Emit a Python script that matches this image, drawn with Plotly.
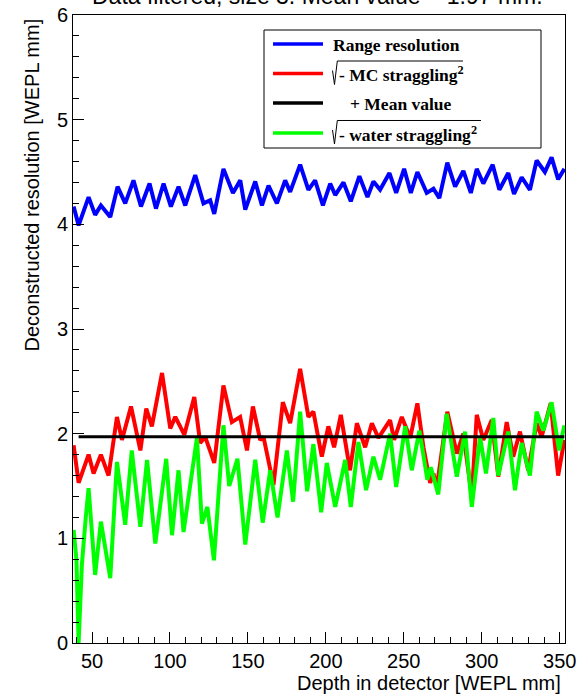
import plotly.graph_objects as go

# Range resolution (blue)
depth_range = [38.2, 41.4, 47.8, 52.0, 55.7, 61.7, 66.4, 71.3, 76.6, 81.4, 86.9, 91.0, 95.9, 100.6,
               105.5, 109.8, 116.2, 121.5, 125.8, 128.4, 134.3, 140.4, 145.1, 148.3, 154.7, 159.0,
               163.2, 168.6, 173.9, 177.1, 183.5, 188.8, 193.1, 198.1, 202.8, 206.0, 211.3, 216.0,
               221.5, 226.7, 230.5, 234.8, 240.8, 245.1, 250.2, 254.5, 258.7, 264.7, 269.0, 272.8,
               277.9, 282.9, 288.2, 293.0, 296.8, 301.0, 307.0, 311.3, 317.0, 320.7, 325.6, 330.9,
               335.2, 340.5, 344.8, 349.0, 353.0]
res_range = [4.17, 3.99, 4.26, 4.09, 4.18, 4.07, 4.36, 4.20, 4.42, 4.17, 4.39, 4.15, 4.39, 4.17,
             4.36, 4.18, 4.47, 4.20, 4.23, 4.10, 4.53, 4.30, 4.42, 4.14, 4.41, 4.18,
             4.37, 4.20, 4.42, 4.31, 4.57, 4.33, 4.42, 4.18, 4.39, 4.28, 4.40, 4.22,
             4.46, 4.26, 4.41, 4.33, 4.49, 4.30, 4.53, 4.30, 4.50, 4.30, 4.34, 4.25,
             4.59, 4.36, 4.51, 4.30, 4.53, 4.39, 4.57, 4.33, 4.49, 4.29, 4.45, 4.33,
             4.61, 4.50, 4.64, 4.43, 4.53]

# sqrt(range^2 - MC straggling^2) (red)
depth_mc = [38.2, 41.4, 47.8, 51.0, 55.7, 60.6, 66.0, 69.2, 75.0, 81.0, 84.8, 88.4, 94.9, 100.2,
            103.4, 109.2, 115.6, 119.4, 122.6, 128.4, 134.3, 139.7, 145.0, 149.4, 153.2, 157.9,
            160.0, 166.4, 172.4, 177.1, 183.5, 188.8, 192.0, 197.4, 201.6, 205.3, 209.6, 215.5,
            219.9, 225.2, 229.5, 233.7, 241.2, 243.8, 248.7, 254.1, 258.7, 262.6, 266.9, 269.0,
            271.2, 277.9, 284.0, 288.2, 293.6, 296.8, 301.0, 306.4, 310.6, 316.0, 320.2, 324.5,
            329.8, 335.2, 338.4, 344.2, 349.0, 353.0]
res_mc = [1.89, 1.53, 1.80, 1.62, 1.80, 1.60, 2.16, 1.94, 2.26, 1.84, 2.24, 2.07, 2.58, 2.05,
          2.16, 1.99, 2.35, 1.91, 1.97, 1.72, 2.46, 2.11, 2.16, 1.84, 2.26, 1.94,
          1.97, 1.51, 2.30, 2.10, 2.62, 2.16, 2.21, 1.78, 2.07, 1.87, 2.18, 1.65,
          2.10, 1.87, 2.10, 1.96, 2.13, 1.94, 2.16, 1.96, 2.29, 1.87, 1.53, 1.62,
          1.49, 2.21, 1.81, 2.00, 1.40, 2.18, 1.94, 2.13, 1.59, 2.11, 1.78, 2.02,
          1.65, 2.10, 1.97, 2.29, 1.60, 1.94]

# sqrt(range^2 - water straggling^2) (green)
depth_water = [38.2, 40.0, 41.4, 43.5, 46.0, 47.8, 52.0, 55.7, 61.7, 66.0, 71.3, 75.5, 81.0, 85.3,
               90.6, 97.6, 101.3, 105.5, 108.7, 117.3, 120.5, 124.0, 128.2, 134.3, 138.0, 143.3,
               148.3, 154.7, 159.5, 164.3, 169.0, 175.0, 179.0, 183.5, 188.0, 192.0, 197.0, 200.6,
               206.0, 212.4, 216.0, 220.9, 225.8, 230.5, 234.8, 241.2, 245.1, 250.9, 255.1, 260.0,
               265.1, 267.3, 272.1, 277.5, 284.0, 289.3, 293.6, 298.9, 302.7, 307.4, 310.6, 317.0,
               321.3, 325.6, 330.9, 335.2, 339.5, 344.8, 349.6, 353.0]
res_water = [1.08, 0.80, 0.00, 0.75, 1.20, 1.48, 0.65, 1.16, 0.62, 1.73, 1.13, 1.84, 1.11, 1.75,
             0.95, 1.76, 1.03, 1.65, 1.06, 1.96, 1.14, 1.30, 0.79, 2.08, 1.50, 1.76,
             0.94, 1.75, 1.15, 1.65, 1.20, 1.84, 1.35, 2.21, 1.45, 1.90, 1.25, 1.72,
             1.30, 1.75, 1.30, 1.92, 1.46, 1.78, 1.56, 2.00, 1.49, 2.07, 1.65, 2.03,
             1.56, 1.68, 1.42, 2.19, 1.59, 2.02, 1.30, 1.97, 1.62, 2.15, 1.60, 2.02,
             1.46, 1.91, 1.60, 2.21, 2.03, 2.30, 1.84, 2.08]

mean_value = 1.97
mean_depth = [41.4, 353.0]

legend_labels = ["Range resolution", "- MC straggling<sup>2</sup>", "+ Mean value",
                 "- water straggling<sup>2</sup>"]
colors = ["#0000ff", "#ff0000", "#000000", "#00ff00"]

# page geometry (pixels)
W, H = 582, 694
L, R, T, B = 73, 17, 15, 51
PW, PH = W - L - R, H - T - B


def px(x):
    return (x - L) / PW


def py(y):
    return (H - B - y) / PH


fig = go.Figure()
fig.add_trace(go.Scatter(x=depth_range, y=res_range, mode="lines",
                         line=dict(color=colors[0], width=4)))
fig.add_trace(go.Scatter(x=depth_mc, y=res_mc, mode="lines",
                         line=dict(color=colors[1], width=4)))
fig.add_trace(go.Scatter(x=depth_water, y=res_water, mode="lines",
                         line=dict(color=colors[3], width=4)))
fig.add_trace(go.Scatter(x=mean_depth, y=[mean_value] * len(mean_depth), mode="lines",
                         line=dict(color=colors[2], width=3)))

font_sans = "Liberation Sans, Arial, sans-serif"
font_serif = "Liberation Serif, Times New Roman, serif"

annotations = [
    dict(text="Data filtered, size 3. Mean value = %.2f mm." % mean_value,
         x=px(317.5), y=py(-4), xref="paper", yref="paper", xanchor="center", yanchor="middle",
         showarrow=False, font=dict(family=font_sans, size=23, color="black")),
    dict(text="Deconstructed resolution [WEPL mm]", textangle=-90,
         x=px(31), y=py(17), xref="paper", yref="paper", xanchor="center", yanchor="top",
         showarrow=False, font=dict(family=font_sans, size=20, color="black")),
    dict(text="Depth in detector [WEPL mm]",
         x=px(563), y=py(683), xref="paper", yref="paper", xanchor="right", yanchor="middle",
         showarrow=False, font=dict(family=font_sans, size=20, color="black")),
]

shapes = [
    # legend box
    dict(type="rect", xref="paper", yref="paper", x0=px(264), x1=px(541), y0=py(30), y1=py(148),
         line=dict(color="black", width=1), fillcolor="white", layer="above"),
]

rows_y = [44, 73.5, 103, 133]
text_x = [331, 337, 348, 337]
for i, (lab, col, ry) in enumerate(zip(legend_labels, colors, rows_y)):
    shapes.append(dict(type="line", xref="paper", yref="paper", x0=px(273), x1=px(323),
                       y0=py(ry), y1=py(ry), line=dict(color=col, width=3.5), layer="above"))
    annotations.append(dict(text="<b>%s</b>" % lab, x=px(text_x[i]), y=py(ry + 1), xref="paper",
                            yref="paper", xanchor="left", yanchor="middle", showarrow=False,
                            font=dict(family=font_serif, size=17.5, color="black")))

# square-root signs with their overbars
for ry, bar_end in [(73.5, 463), (133, 481)]:
    pts = [(332.5, ry - 3), (334.5, ry + 11), (337.3, ry - 12.5), (bar_end, ry - 12.5)]
    path = "M " + " L ".join("%.5f,%.5f" % (px(a), py(b)) for a, b in pts)
    shapes.append(dict(type="path", xref="paper", yref="paper", path=path,
                       line=dict(color="black", width=1), layer="above"))

fig.update_layout(
    width=W, height=H,
    margin=dict(l=L, r=R, t=T, b=B, pad=0),
    paper_bgcolor="white", plot_bgcolor="white",
    showlegend=False,
    annotations=annotations,
    shapes=shapes,
    xaxis=dict(range=[37.8, 353.4], tick0=0, dtick=50, ticks="inside", ticklen=11,
               tickcolor="black", showline=True, linecolor="black", linewidth=1, mirror=True,
               showgrid=False, zeroline=False, automargin=False,
               tickfont=dict(family=font_sans, size=20, color="black"),
               minor=dict(dtick=10, tick0=0, ticks="inside", ticklen=6, tickcolor="black",
                          showgrid=False)),
    yaxis=dict(range=[0, 6], tick0=0, dtick=1, ticks="inside", ticklen=11,
               tickcolor="black", showline=True, linecolor="black", linewidth=1, mirror=True,
               showgrid=False, zeroline=False, automargin=False,
               tickfont=dict(family=font_sans, size=20, color="black"),
               minor=dict(dtick=0.2, tick0=0, ticks="inside", ticklen=6, tickcolor="black",
                          showgrid=False)),
)

fig.write_html("out.html")
